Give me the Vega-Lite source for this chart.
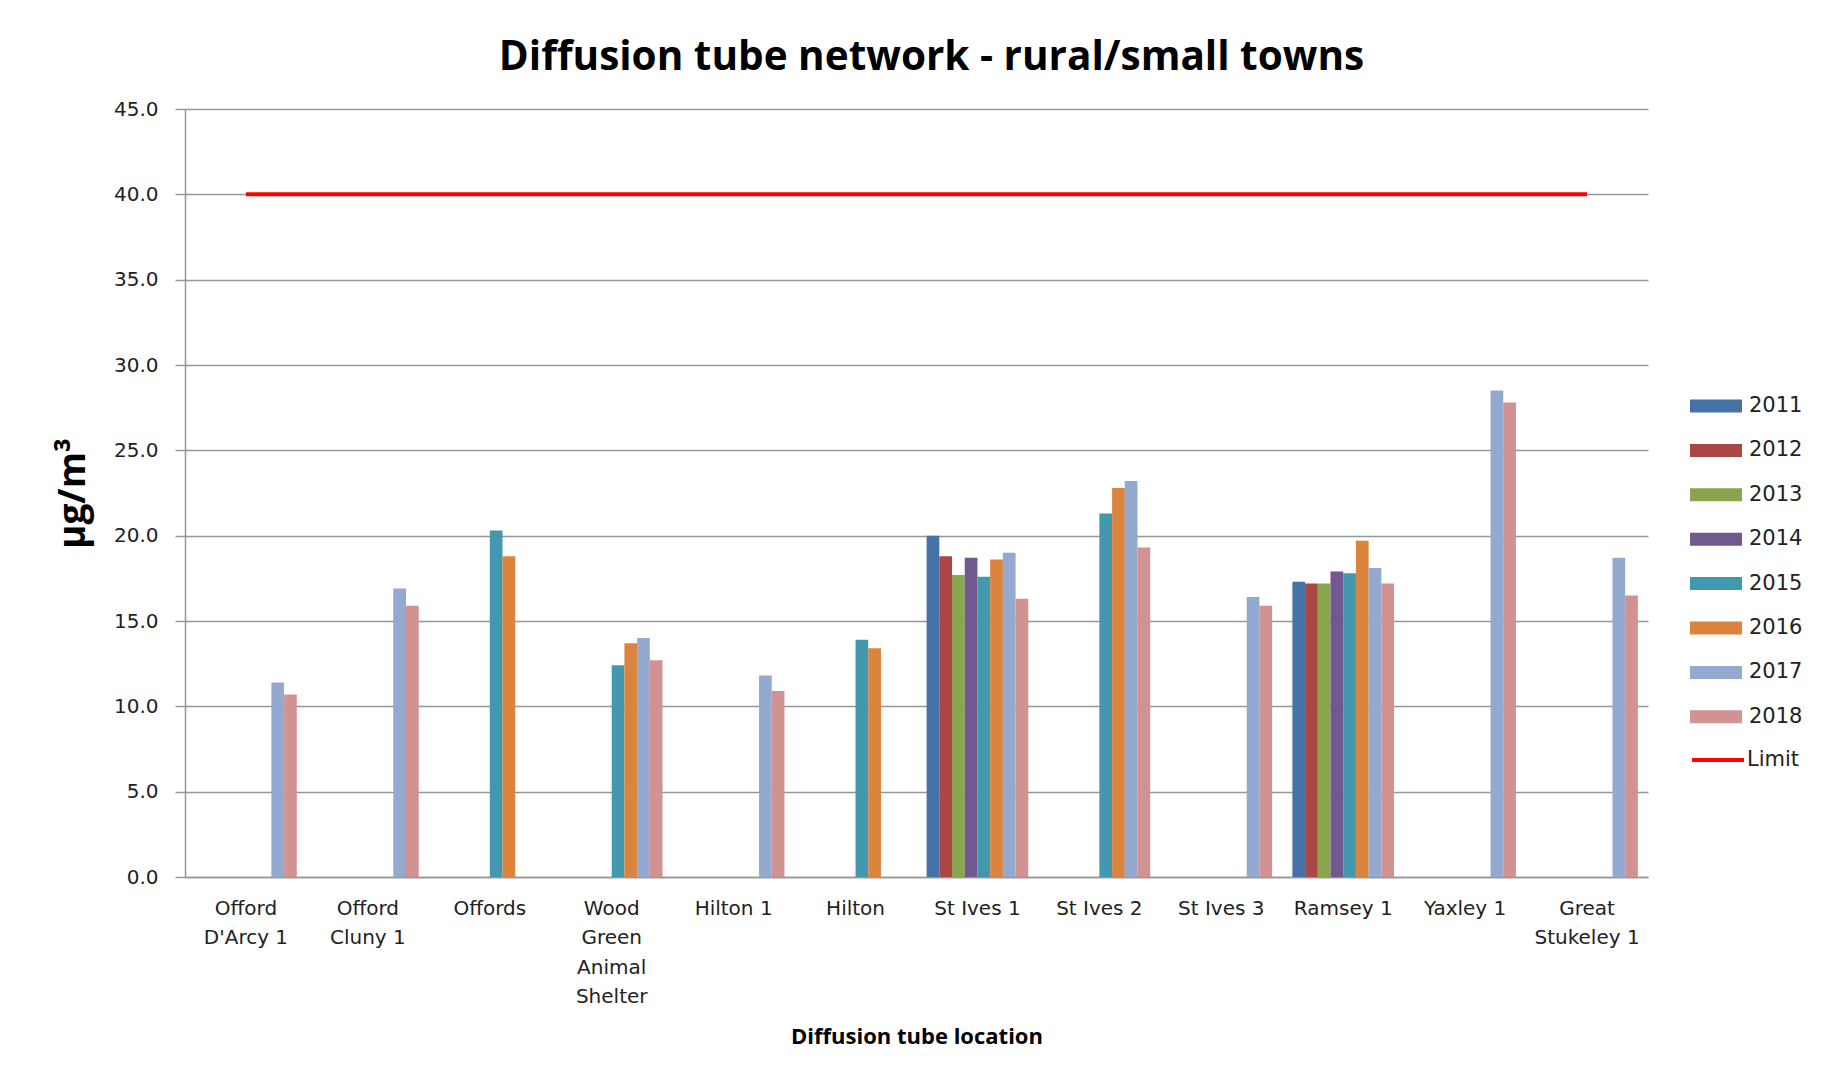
{
  "$schema": "https://vega.github.io/schema/vega-lite/v6.json",
  "autosize": {"type": "none"},
  "padding": {"left": 185, "top": 109, "right": 177, "bottom": 199},
  "width": 1463,
  "height": 768,
  "background": "white",
  "title": {
    "text": "Diffusion tube network - rural/small towns",
    "font": "Open Sans",
    "fontSize": 40.5,
    "fontWeight": "bold",
    "color": "#000000",
    "anchor": "middle",
    "baseline": "alphabetic",
    "offset": 42,
    "dy": 53,
    "dx": 15
  },
  "datasets": {
    "bars": [
      {"location": "Offord D'Arcy 1", "year": "2017", "value": 11.4},
      {"location": "Offord D'Arcy 1", "year": "2018", "value": 10.7},
      {"location": "Offord Cluny 1", "year": "2017", "value": 16.9},
      {"location": "Offord Cluny 1", "year": "2018", "value": 15.9},
      {"location": "Offords", "year": "2015", "value": 20.3},
      {"location": "Offords", "year": "2016", "value": 18.8},
      {"location": "Wood Green Animal Shelter", "year": "2015", "value": 12.4},
      {"location": "Wood Green Animal Shelter", "year": "2016", "value": 13.7},
      {"location": "Wood Green Animal Shelter", "year": "2017", "value": 14.0},
      {"location": "Wood Green Animal Shelter", "year": "2018", "value": 12.7},
      {"location": "Hilton 1", "year": "2017", "value": 11.8},
      {"location": "Hilton 1", "year": "2018", "value": 10.9},
      {"location": "Hilton", "year": "2015", "value": 13.9},
      {"location": "Hilton", "year": "2016", "value": 13.4},
      {"location": "St Ives 1", "year": "2011", "value": 20.0},
      {"location": "St Ives 1", "year": "2012", "value": 18.8},
      {"location": "St Ives 1", "year": "2013", "value": 17.7},
      {"location": "St Ives 1", "year": "2014", "value": 18.7},
      {"location": "St Ives 1", "year": "2015", "value": 17.6},
      {"location": "St Ives 1", "year": "2016", "value": 18.6},
      {"location": "St Ives 1", "year": "2017", "value": 19.0},
      {"location": "St Ives 1", "year": "2018", "value": 16.3},
      {"location": "St Ives 2", "year": "2015", "value": 21.3},
      {"location": "St Ives 2", "year": "2016", "value": 22.8},
      {"location": "St Ives 2", "year": "2017", "value": 23.2},
      {"location": "St Ives 2", "year": "2018", "value": 19.3},
      {"location": "St Ives 3", "year": "2017", "value": 16.4},
      {"location": "St Ives 3", "year": "2018", "value": 15.9},
      {"location": "Ramsey 1", "year": "2011", "value": 17.3},
      {"location": "Ramsey 1", "year": "2012", "value": 17.2},
      {"location": "Ramsey 1", "year": "2013", "value": 17.2},
      {"location": "Ramsey 1", "year": "2014", "value": 17.9},
      {"location": "Ramsey 1", "year": "2015", "value": 17.8},
      {"location": "Ramsey 1", "year": "2016", "value": 19.7},
      {"location": "Ramsey 1", "year": "2017", "value": 18.1},
      {"location": "Ramsey 1", "year": "2018", "value": 17.2},
      {"location": "Yaxley 1", "year": "2017", "value": 28.5},
      {"location": "Yaxley 1", "year": "2018", "value": 27.8},
      {"location": "Great Stukeley 1", "year": "2017", "value": 18.7},
      {"location": "Great Stukeley 1", "year": "2018", "value": 16.5}
    ],
    "limit": [
      {"location": "Offord D'Arcy 1", "series": "Limit", "value": 40},
      {"location": "Offord Cluny 1", "series": "Limit", "value": 40},
      {"location": "Offords", "series": "Limit", "value": 40},
      {"location": "Wood Green Animal Shelter", "series": "Limit", "value": 40},
      {"location": "Hilton 1", "series": "Limit", "value": 40},
      {"location": "Hilton", "series": "Limit", "value": 40},
      {"location": "St Ives 1", "series": "Limit", "value": 40},
      {"location": "St Ives 2", "series": "Limit", "value": 40},
      {"location": "St Ives 3", "series": "Limit", "value": 40},
      {"location": "Ramsey 1", "series": "Limit", "value": 40},
      {"location": "Yaxley 1", "series": "Limit", "value": 40},
      {"location": "Great Stukeley 1", "series": "Limit", "value": 40}
    ]
  },
  "layer": [
    {
      "data": {"name": "bars"},
      "mark": {"type": "bar"},
      "encoding": {
        "x": {
          "field": "location",
          "type": "nominal",
          "sort": null,
          "scale": {
            "domain": ["Offord D'Arcy 1", "Offord Cluny 1", "Offords", "Wood Green Animal Shelter", "Hilton 1", "Hilton", "St Ives 1", "St Ives 2", "St Ives 3", "Ramsey 1", "Yaxley 1", "Great Stukeley 1"],
            "paddingInner": 0.166,
            "paddingOuter": 0.083
          },
          "axis": {
            "title": "Diffusion tube location",
            "titleFont": "Open Sans",
            "titleFontSize": 22,
            "titleFontWeight": "bold",
            "titleColor": "#000000",
            "titlePadding": 20,
            "labelAngle": 0,
            "labelFont": "DejaVu Sans",
            "labelFontSize": 20,
            "labelColor": "#222222",
            "labelLineHeight": 29.5,
            "labelPadding": 21,
            "labelBaseline": "top",
            "ticks": false,
            "tickSize": 0,
            "domainColor": "#969696",
            "domainWidth": 1.5,
            "grid": false,
            "labelExpr": "datum.value == 'Wood Green Animal Shelter' ? ['Wood', 'Green', 'Animal', 'Shelter'] : ((indexof(datum.value, 'Offord ') == 0 || indexof(datum.value, 'Great ') == 0) ? [slice(datum.value, 0, indexof(datum.value, ' ')), slice(datum.value, indexof(datum.value, ' ') + 1)] : datum.value)"
          }
        },
        "xOffset": {
          "field": "year",
          "type": "nominal",
          "scale": {"domain": ["2011", "2012", "2013", "2014", "2015", "2016", "2017", "2018"], "paddingInner": 0, "paddingOuter": 0}
        },
        "y": {
          "field": "value",
          "type": "quantitative",
          "scale": {"domain": [0, 45], "nice": false},
          "axis": {
            "values": [0, 5, 10, 15, 20, 25, 30, 35, 40, 45],
            "format": ".1f",
            "title": "µg/m³",
            "titleFont": "Open Sans",
            "titleFontSize": 37,
            "titleFontWeight": "bold",
            "titleColor": "#000000",
            "titleAngle": -90,
            "titleAlign": "center",
            "titleBaseline": "alphabetic",
            "titleX": -101,
            "titleY": 384,
            "labelFont": "DejaVu Sans",
            "labelFontSize": 20,
            "labelColor": "#222222",
            "labelPadding": 17,
            "tickSize": 10,
            "tickColor": "#969696",
            "tickWidth": 1.5,
            "domainColor": "#969696",
            "domainWidth": 1.5,
            "grid": true,
            "gridColor": "#969696",
            "gridWidth": 1.5
          }
        },
        "color": {
          "field": "year",
          "type": "nominal",
          "scale": {
            "domain": ["2011", "2012", "2013", "2014", "2015", "2016", "2017", "2018"],
            "range": ["#4572A7", "#AA4643", "#89A54E", "#71588F", "#4198AF", "#DB843D", "#93A9CF", "#D19392"]
          },
          "legend": {
            "title": null,
            "orient": "none",
            "legendX": 1518,
            "legendY": 284,
            "symbolType": "M-2,-0.5H2V0.5H-2Z",
            "symbolSize": 676,
            "symbolStrokeWidth": 0,
            "symbolOpacity": 1,
            "rowPadding": 21.4,
            "labelOffset": 20,
            "labelFont": "DejaVu Sans",
            "labelFontSize": 21,
            "labelColor": "#222222",
            "padding": 0
          }
        }
      }
    },
    {
      "data": {"name": "limit"},
      "mark": {"type": "line", "strokeWidth": 4},
      "encoding": {
        "x": {"field": "location", "type": "nominal", "sort": null},
        "y": {"field": "value", "type": "quantitative"},
        "stroke": {
          "field": "series",
          "type": "nominal",
          "scale": {"domain": ["Limit"], "range": ["#FF0000"]},
          "legend": {
            "title": null,
            "orient": "none",
            "legendX": 1518,
            "legendY": 636,
            "symbolType": "M-2,0H2",
            "symbolSize": 676,
            "symbolStrokeWidth": 4,
            "labelOffset": 14,
            "labelFont": "DejaVu Sans",
            "labelFontSize": 21,
            "labelColor": "#222222",
            "padding": 0
          }
        }
      }
    }
  ],
  "config": {
    "view": {"stroke": null}
  }
}
